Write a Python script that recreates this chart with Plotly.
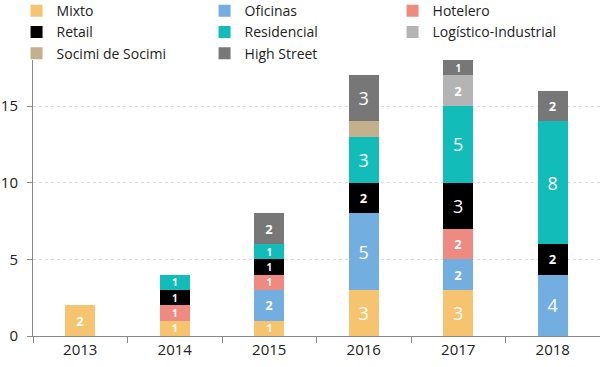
import plotly.graph_objects as go

years = ["2013", "2014", "2015", "2016", "2017", "2018"]
mixto = [2, 1, 1, 3, 3, 0]
oficinas = [0, 0, 2, 5, 2, 4]
hotelero = [0, 1, 1, 0, 2, 0]
retail = [0, 1, 1, 2, 3, 2]
residencial = [0, 1, 1, 3, 5, 8]
logistico = [0, 0, 0, 0, 2, 0]
socimi = [0, 0, 0, 1, 0, 0]
high_street = [0, 0, 2, 3, 1, 2]
y_ticks = [0, 5, 10, 15]

series = [
    ("Mixto", mixto, "#F6C46E", True),
    ("Oficinas", oficinas, "#72AEDF", True),
    ("Hotelero", hotelero, "#EE8A80", True),
    ("Retail", retail, "#000000", True),
    ("Residencial", residencial, "#12BDB9", True),
    ("Logístico-Industrial", logistico, "#B4B4B4", True),
    ("Socimi de Socimi", socimi, "#C3B08D", False),
    ("High Street", high_street, "#777777", True),
]

def size_for(v):
    if v >= 3:
        return 18
    if v == 2:
        return 13
    return 10

fig = go.Figure()
for name, vals, color, show_text in series:
    ys = [v if v else None for v in vals]
    txt = [str(v) if (v and show_text) else "" for v in vals]
    fig.add_trace(go.Bar(
        name=name, x=years, y=ys, marker=dict(color=color, line=dict(width=0)),
        text=txt, textposition="inside", insidetextanchor="middle",
        textangle=0, constraintext="none",
        textfont=dict(color="white", family="Open Sans", size=[size_for(v) for v in vals],
                      weight=[700 if v < 3 else 400 for v in vals]),
        hoverinfo="skip",
    ))

fig.update_layout(
    barmode="stack",
    width=600, height=367,
    bargap=0.68,
    paper_bgcolor="white", plot_bgcolor="white",
    margin=dict(l=33, r=0, t=60, b=31, autoexpand=False),
    font=dict(family="Open Sans", color="#222222"),
    showlegend=True,
    legend=dict(orientation="h", x=-0.029, xanchor="left", y=1.235, yanchor="top",
                traceorder="normal", entrywidth=143, entrywidthmode="pixels",
                font=dict(size=14, color="#222222"), itemwidth=30,
                tracegroupgap=0, bgcolor="rgba(0,0,0,0)"),
    uniformtext=dict(mode=False),
)
fig.update_xaxes(type="category", showline=True, linecolor="#888888", linewidth=1,
                 ticks="outside", tickson="boundaries", ticklen=6, tickcolor="#888888",
                 tickfont=dict(size=15, family="Open Sans", color="#222222"), showgrid=False)
fig.update_yaxes(range=[0, 18], tickvals=y_ticks, ticktext=[str(t) for t in y_ticks],
                 showline=True, linecolor="#888888", linewidth=1,
                 ticks="outside", ticklen=5, tickcolor="#888888", ticklabelstandoff=6,
                 tickfont=dict(size=15, family="Open Sans", color="#222222"),
                 showgrid=True, gridcolor="#DDDDDD", griddash="dot", gridwidth=1,
                 zeroline=False)

fig.write_html("out.html", config={"displayModeBar": False},
               post_script="document.body.style.margin='0';")
